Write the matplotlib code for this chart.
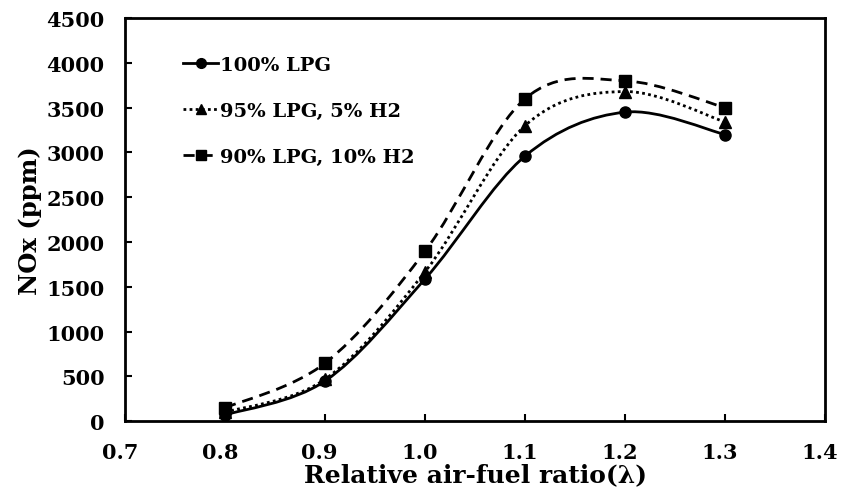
import numpy as np
import matplotlib
matplotlib.use("Agg")
import matplotlib.pyplot as plt
import matplotlib.transforms as mtransforms
from matplotlib.path import Path
from matplotlib.patches import PathPatch
from matplotlib.lines import Line2D

plt.rcParams['font.family'] = ['DejaVu Serif']
plt.rcParams['font.weight'] = 'bold'

# data
lam = [0.8, 0.9, 1.0, 1.1, 1.2, 1.3]
nox_lpg100 = [70, 450, 1590, 2960, 3450, 3200]
nox_h2_5 = [100, 470, 1670, 3300, 3680, 3340]
nox_h2_10 = [150, 650, 1900, 3600, 3800, 3500]

labels = ["100% LPG", "95% LPG, 5% H2", "90% LPG, 10% H2"]
markers = ["o", "^", "s"]
styles = ["-", (0, (1, 1.2)), (0, (4, 2.5))]


# Excel style smoothed line: cubic bezier segments (catmull-rom control points)
def smooth_path(x, y):
    x = np.asarray(x, float)
    y = np.asarray(y, float)
    n = len(x)
    verts = [(x[0], y[0])]
    codes = [Path.MOVETO]
    for i in range(n - 1):
        p0 = i - 1 if i > 0 else i
        p3 = i + 2 if i + 2 < n else i + 1
        c1 = (x[i] + (x[i + 1] - x[p0]) / 6, y[i] + (y[i + 1] - y[p0]) / 6)
        c2 = (x[i + 1] - (x[p3] - x[i]) / 6, y[i + 1] - (y[p3] - y[i]) / 6)
        verts += [c1, c2, (x[i + 1], y[i + 1])]
        codes += [Path.CURVE4] * 3
    return Path(verts, codes)


fig = plt.figure(figsize=(8.41, 5.02), dpi=100)
ax = fig.add_axes([0.149, 0.159, 0.832, 0.803])

handles = []
for ys, lab, mk, ls in zip([nox_lpg100, nox_h2_5, nox_h2_10], labels, markers, styles):
    patch = PathPatch(smooth_path(lam, ys), facecolor='none', edgecolor='black',
                      lw=2, linestyle=ls, capstyle='butt')
    ax.add_patch(patch)
    ax.plot(lam, ys, linestyle='none', marker=mk, color='black', markersize=8)
    handles.append(Line2D([], [], color='black', lw=2, linestyle=ls,
                          marker=mk, markersize=7, label=lab))

ax.set_xlim(0.7, 1.4)
ax.set_ylim(0, 4500)
ax.set_xticks(np.arange(0.7, 1.41, 0.1))
ax.set_xticklabels([f"{v:.1f}" for v in np.arange(0.7, 1.41, 0.1)])
ax.set_yticks(np.arange(0, 4501, 500))
ax.tick_params(direction='in', length=5, width=1.5, labelsize=15)
ax.tick_params(axis='x', pad=15)
ax.tick_params(axis='y', pad=15)
for sp in ax.spines.values():
    sp.set_linewidth(2)

# nudge x tick labels a little to the left so 1.4 stays inside the figure
shift = mtransforms.ScaledTranslation(-4 / 72, 0, fig.dpi_scale_trans)
for t in ax.get_xticklabels():
    t.set_transform(t.get_transform() + shift)

ax.set_xlabel("Relative air-fuel ratio(\u03bb)", fontsize=18, fontweight='bold', labelpad=0)
ax.set_ylabel("NOx (ppm)", fontsize=17.5, fontweight='bold', labelpad=3)

leg = ax.legend(handles=handles, loc='upper left', bbox_to_anchor=(0.058, 0.95),
                frameon=False, fontsize=14, handlelength=1.8, handletextpad=0.1,
                labelspacing=1.45)

fig.savefig("out.png", dpi=100)
